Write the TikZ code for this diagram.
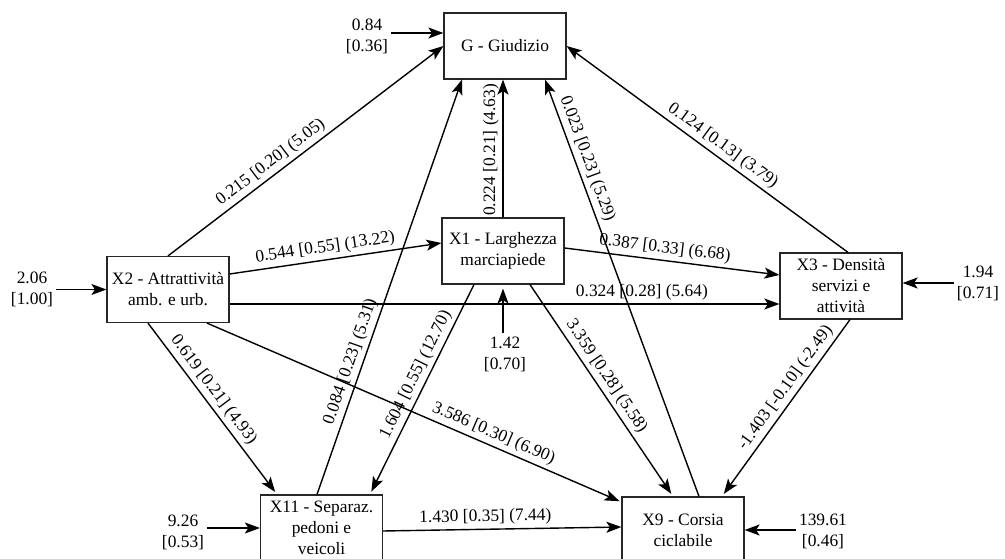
\documentclass[tikz,border=0pt]{standalone}
\usepackage{fontspec}
\setmainfont{Liberation Serif}
\usetikzlibrary{arrows.meta,calc}

\begin{document}
\begin{tikzpicture}[x=1pt,y=-1pt,
  txt/.style={font=\fontsize{17.4pt}{21pt}\selectfont, text=black},
  var/.style={txt, draw=black!85, line width=1.2pt, minimum width=122pt,
    minimum height=66pt, align=center, inner sep=2pt},
  res/.style={txt, align=center, inner sep=3pt},
  link/.style={line width=1.4pt, draw=black,
    -{Stealth[length=15pt,width=11pt,inset=3.5pt]}},
  short/.style={shorten >=3pt},
  lab/.style={txt, sloped, above, inner sep=3.5pt}
]
\useasboundingbox (0,0) rectangle (1005,559);

% latent and observed variables
\node[var] (G)   at (505,46)    {G - Giudizio};
\node[var] (X1)  at (503,251)   {X1 - Larghezza\\marciapiede};
\node[var] (X2)  at (168,289.5) {X2 - Attrattività\\amb. e urb.};
\node[var] (X3)  at (841,286)   {X3 - Densità\\servizi e\\attività};
\node[var] (X11) at (321.5,528) {X11 - Separaz.\\pedoni e\\veicoli};
\node[var] (X9)  at (683,530)   {X9 - Corsia\\ciclabile};

% structural paths with coefficients
\draw[link] (X2.north) -- (G.west)
  node[lab,pos=0.40] {0.215 [0.20] (5.05)};
\draw[link] (X1.north) -- (X1.north |- G.south)
  node[lab,pos=0.49] {0.224 [0.21] (4.63)};
\draw[link] ([xshift=-4.5pt]X11.north) -- ([xshift=-43pt]G.south)
  node[lab,pos=0.31] {0.084 [0.23] (5.31)};
\draw[link] ([xshift=16pt]X9.north) -- ([xshift=40pt]G.south)
  node[lab,pos=0.80] {0.023 [0.23] (5.29)};
\draw[link] ([xshift=7pt]X3.north) -- (G.east)
  node[lab,pos=0.47] {0.124 [0.13] (3.79)};
\draw[link] ([yshift=15.5pt]X2.east) -- ([yshift=8pt]X1.west)
  node[lab,pos=0.46] {0.544 [0.55] (13.22)};
\draw[link] ([yshift=3pt]X1.east) -- ([yshift=11pt]X3.west)
  node[lab,pos=0.46] {0.387 [0.33] (6.68)};
\draw[link] ([yshift=-14.5pt]X2.east) -- ([yshift=-18pt]X3.west)
  node[lab,pos=0.75] {0.324 [0.28] (5.64)};
\draw[link,short] ([xshift=-20pt]X2.south) -- ([xshift=-44.5pt]X11.north)
  node[lab,pos=0.434] {0.619 [0.21] (4.93)};
\draw[link,shorten >=2pt] ([xshift=39pt]X2.south) -- ([yshift=28pt]X9.west)
  node[lab,pos=0.68] {3.586 [0.30] (6.90)};
\draw[link,short] ([xshift=-29pt]X1.south) -- ([xshift=48.5pt]X11.north)
  node[lab,pos=0.455] {1.604 [0.55] (12.70)};
\draw[link,short] ([xshift=27pt]X1.south) -- ([xshift=-10pt]X9.north)
  node[lab,pos=0.465] {3.359 [0.28] (5.58)};
\draw[link,short] ([xshift=9pt]X3.south) -- ([xshift=39pt]X9.north)
  node[lab,pos=0.427] {-1.403 [-0.10] (-2.49)};
\draw[link] ([yshift=-3pt]X11.east) -- ([yshift=3pt]X9.west)
  node[lab,pos=0.43] {1.430 [0.35] (7.44)};

% error variances
\coordinate (g0) at ([yshift=13pt]G.west);
\node[res] (r0)  at (367,36.5) {0.84\\{[0.36]}};
\draw[link] (r0.east |- g0) -- (g0);

\node[res] (r2)  at (32,289.5) {2.06\\{[1.00]}};
\draw[link] (r2.east) -- (X2.west);

\node[res] (r1)  at (505,354) {1.42\\{[0.70]}};
\draw[link,shorten >=4pt] (r1.north -| X1.south) -- (X1.south);

\node[res] (r3)  at (978,283) {1.94\\{[0.71]}};
\draw[link] (r3.west) -- (r3.west -| X3.east);

\node[res] (r11) at (183,532) {9.26\\{[0.53]}};
\draw[link] (r11.east |- X11.west) -- (X11.west);

\node[res] (r9)  at (823,531) {139.61\\{[0.46]}};
\draw[link] (r9.west |- X9.east) -- (X9.east);
\end{tikzpicture}
\end{document}
